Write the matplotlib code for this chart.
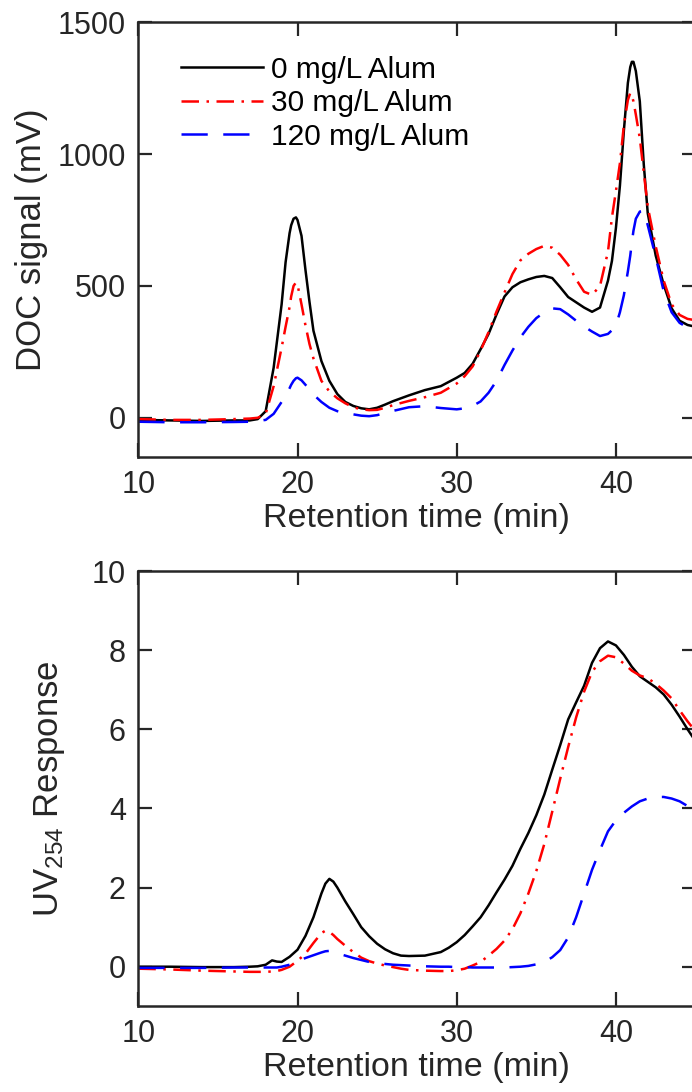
import matplotlib
matplotlib.use('Agg')
import matplotlib.pyplot as plt

plt.rcParams['font.family'] = ['Liberation Sans', 'DejaVu Sans']
plt.rcParams['mathtext.default'] = 'regular'

# DOC signal (top panel)
t_doc = [10, 12, 14, 16, 17, 17.5, 18, 18.5, 19, 19.25, 19.5, 19.6, 19.75, 19.9, 20, 20.25, 20.5,
         20.75, 21, 21.5, 22, 22.5, 23, 23.5, 24, 24.5, 25, 25.5, 26, 27, 28, 29, 30, 30.5, 31,
         31.5, 32, 32.5, 33, 33.5, 34, 34.5, 35, 35.5, 36, 36.5, 37, 37.5, 38, 38.5, 39, 39.5,
         39.75, 40, 40.25, 40.5, 40.75, 40.9, 41, 41.1, 41.25, 41.5, 41.75, 42, 42.5, 43, 43.5,
         44, 44.5, 45]
doc_0 = [-8, -10, -12, -10, -10, -5, 25, 190, 430, 590, 700, 730, 755, 760, 750, 690, 560,
         440, 330, 215, 140, 90, 60, 45, 36, 32, 38, 50, 63, 85, 105, 120, 152, 170, 205,
         260, 318, 392, 460, 495, 514, 525, 534, 538, 530, 495, 458, 438, 418, 402, 418, 520,
         595, 720, 880, 1090, 1270, 1330, 1350, 1350, 1315, 1200, 960, 775, 615, 505, 415,
         368, 352, 345]
doc_30 = [-5, -8, -8, -5, -3, 0, 15, 120, 266, 345, 420, 460, 500, 513, 505, 430, 350,
          280, 225, 140, 100, 74, 55, 40, 32, 29, 30, 38, 48, 64, 78, 95, 130, 158, 195,
          255, 325, 403, 475, 545, 597, 622, 640, 652, 645, 618, 580, 525, 478, 466, 500, 630,
          760, 860, 965, 1110, 1205, 1232, 1222, 1200, 1150, 1060, 930, 800, 650, 520, 430,
          390, 375, 370]
doc_120 = [-15, -17, -17, -16, -15, -12, -8, 15, 60, 85, 112, 125, 140, 150, 152, 142, 125,
           108, 88, 60, 38, 25, 17, 13, 8, 6, 10, 18, 26, 40, 44, 37, 32, 36, 45,
           62, 95, 140, 200, 255, 305, 345, 378, 400, 415, 412, 392, 368, 346, 327, 310, 318,
           332, 350, 400, 465, 555, 615, 665, 709, 755, 782, 785, 730, 610, 480, 400,
           360, 342, 335]

# UV254 response (bottom panel)
t_uv = [10, 12, 14, 16, 17, 17.5, 18, 18.4, 18.7, 19, 19.5, 20, 20.5, 21, 21.5, 21.75, 22,
        22.25, 22.5, 23, 23.5, 24, 24.5, 25, 25.5, 26, 26.5, 27, 28, 29, 29.5, 30, 30.5, 31,
        31.5, 32, 32.5, 33, 33.5, 34, 34.5, 35, 35.5, 36, 36.5, 37, 37.5, 38, 38.5, 39, 39.5,
        40, 40.5, 41, 41.5, 42, 42.5, 43, 43.5, 44, 44.5, 45]
uv_0 = [0.0, 0.0, -0.01, -0.01, 0.0, 0.01, 0.05, 0.16, 0.13, 0.12, 0.25, 0.43, 0.78, 1.25, 1.85,
        2.1, 2.22, 2.15, 2.0, 1.65, 1.33, 1.0, 0.77, 0.58, 0.44, 0.34, 0.28, 0.27, 0.28, 0.37,
        0.48, 0.62, 0.8, 1.02, 1.25, 1.55, 1.88, 2.2, 2.55, 2.98, 3.38, 3.83, 4.35, 4.98, 5.6,
        6.25, 6.68, 7.1, 7.68, 8.05, 8.22, 8.12, 7.88, 7.58, 7.34, 7.2, 7.06, 6.88, 6.62, 6.32,
        6.0, 5.7]
uv_30 = [-0.05, -0.07, -0.1, -0.12, -0.13, -0.13, -0.13, -0.12, -0.11, -0.08, 0.0, 0.15, 0.33,
         0.6, 0.85, 0.91, 0.88, 0.8, 0.7, 0.53, 0.37, 0.23, 0.14, 0.08, 0.03, -0.01, -0.05,
         -0.08, -0.1, -0.11, -0.11, -0.09, -0.05, 0.03, 0.12, 0.28, 0.45, 0.66, 0.95, 1.35,
         1.85, 2.42, 3.1, 3.92, 4.75, 5.55, 6.3, 6.95, 7.45, 7.72, 7.86, 7.82, 7.66, 7.48,
         7.36, 7.29, 7.15, 6.98, 6.78, 6.48, 6.2, 5.95]
uv_120 = [-0.03, -0.03, -0.03, -0.02, -0.02, -0.02, -0.02, -0.02, -0.02, 0.0, 0.05, 0.14, 0.22,
          0.29, 0.36, 0.39, 0.4, 0.38, 0.34, 0.28, 0.22, 0.17, 0.12, 0.09, 0.07, 0.05, 0.04,
          0.03, 0.01, 0.0, 0.0, -0.01, -0.01, -0.02, -0.02, -0.02, -0.02, -0.02, -0.01, 0.0,
          0.02, 0.06, 0.12, 0.24, 0.42, 0.74, 1.25, 1.85, 2.45, 2.95, 3.42, 3.7, 3.89, 4.05,
          4.18, 4.25, 4.29, 4.29, 4.25, 4.18, 4.06, 3.93]

labels = ['0 mg/L Alum', '30 mg/L Alum', '120 mg/L Alum']
dark = '#262626'

fig = plt.figure(figsize=(6.92, 10.92), dpi=100)
ax1 = fig.add_axes([0.1999, 0.5812, 0.8052, 0.3984])
ax2 = fig.add_axes([0.1999, 0.0785, 0.8052, 0.3986])


def style(ax):
    ax.set_xlim(10, 45)
    ax.set_xticks([10, 20, 30, 40])
    ax.tick_params(direction='in', top=True, right=True, length=10, width=1.6,
                   pad=9, labelsize=22, colors=dark)
    for s in ax.spines.values():
        s.set_linewidth(1.8)
        s.set_color(dark)
    ax.set_xlabel('Retention time (min)', fontsize=24.5, color=dark, labelpad=2)


ax1.plot(t_doc, doc_0, color='black', lw=1.8, label=labels[0])
ax1.plot(t_doc, doc_30, color='red', lw=1.8, dashes=(7, 3, 1, 3), label=labels[1])
ax1.plot(t_doc, doc_120, color='blue', lw=1.8, dashes=(10.5, 6.2), label=labels[2])
style(ax1)
ax1.set_ylim(-150, 1500)
ax1.set_yticks([0, 500, 1000, 1500])
ax1.set_ylabel('DOC signal (mV)', fontsize=25, color=dark, labelpad=7)
ax1.legend(loc='upper left', bbox_to_anchor=(0.0766, 0.9227), frameon=False, fontsize=21.5,
           handlelength=2.74, handletextpad=0.26, labelspacing=0.18, borderpad=0,
           borderaxespad=0)

ax2.plot(t_uv, uv_0, color='black', lw=1.8)
ax2.plot(t_uv, uv_30, color='red', lw=1.8, dashes=(7, 3, 1, 3))
ax2.plot(t_uv, uv_120, color='blue', lw=1.8, dashes=(10.5, 6.2))
style(ax2)
ax2.set_ylim(-1, 10)
ax2.set_yticks([0, 2, 4, 6, 8, 10])
ax2.set_ylabel('UV$_{254}$ Response', fontsize=25, color=dark, labelpad=18)

fig.savefig('out.png', dpi=100)
